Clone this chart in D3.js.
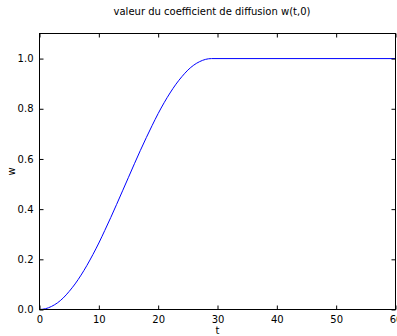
<!DOCTYPE html>
<html>
<head>
<meta charset="utf-8">
<script src="https://cdn.jsdelivr.net/npm/d3@7"></script>
<style>
  html, body { margin: 0; padding: 0; background: #fff; }
  svg { display: block; }
  text { font-family: "DejaVu Sans", sans-serif; fill: #000; }
</style>
</head>
<body>
<svg id="chart" width="397" height="336"></svg>
<script>
const titleText = "valeur du coefficient de diffusion w(t,0)";
const xLabel = "t";
const yLabel = "w";
const tValues = [0, 1, 2, 3, 4, 5, 6, 7, 8, 9, 10, 11, 12, 13, 14, 15, 16, 17, 18, 19, 20, 21, 22, 23, 24, 25, 26, 27, 28, 29, 60];
const wValues = [0, 0.003, 0.012, 0.026, 0.046, 0.072, 0.102, 0.137, 0.176, 0.219, 0.265, 0.315, 0.366, 0.419, 0.473, 0.527, 0.581, 0.634, 0.685, 0.734, 0.781, 0.824, 0.863, 0.898, 0.928, 0.954, 0.974, 0.988, 0.997, 1.0, 1.0];
const xTicks = [0, 10, 20, 30, 40, 50, 60];
const yTicks = [0.0, 0.2, 0.4, 0.6, 0.8, 1.0];

(function () {
const svg = d3.select("#chart");
const mLeft = 39.5, mRight = 395.5, mTop = 33.5, mBottom = 309.5;

const x = d3.scaleLinear().domain([0, 60]).range([mLeft, mRight]);
const y = d3.scaleLinear().domain([0, 1.1]).range([mBottom, mTop]);

const data = tValues.map((t, i) => ({ t, w: wValues[i] }));

svg.append("path")
  .datum(data)
  .attr("fill", "none")
  .attr("stroke", "#0000ff")
  .attr("stroke-width", 1)
  .attr("d", d3.line().x(d => x(d.t)).y(d => y(d.w)).curve(d3.curveMonotoneX));

const tickLen = 4;
const bAxis = d3.axisBottom(x).tickValues(xTicks).tickFormat(d3.format("d")).tickSizeInner(-tickLen).tickSizeOuter(0).tickPadding(6);
const tAxis = d3.axisTop(x).tickValues(xTicks).tickFormat("").tickSizeInner(-tickLen).tickSizeOuter(0);
const lAxis = d3.axisLeft(y).tickValues(yTicks).tickFormat(d3.format(".1f")).tickSizeInner(-tickLen).tickSizeOuter(0).tickPadding(6);
const rAxis = d3.axisRight(y).tickValues(yTicks).tickFormat("").tickSizeInner(-tickLen).tickSizeOuter(0);

function style(g) {
  g.select(".domain").remove();
  g.selectAll(".tick line").attr("stroke", "#000").attr("stroke-width", 1);
  g.selectAll(".tick text").attr("font-family", "DejaVu Sans").attr("font-size", 10).attr("fill", "#000");
}

svg.append("g").attr("transform", `translate(0,${mBottom})`).call(bAxis).call(style);
svg.append("g").attr("transform", `translate(0,${mTop})`).call(tAxis).call(style);
svg.append("g").attr("transform", `translate(${mLeft},0)`).call(lAxis).call(style);
svg.append("g").attr("transform", `translate(${mRight},0)`).call(rAxis).call(style);

svg.append("rect")
  .attr("x", mLeft).attr("y", mTop)
  .attr("width", mRight - mLeft).attr("height", mBottom - mTop)
  .attr("fill", "none").attr("stroke", "#000").attr("stroke-width", 1);

svg.append("text")
  .attr("x", (mLeft + mRight) / 2).attr("y", 334)
  .attr("text-anchor", "middle").attr("font-size", 10)
  .text(xLabel);

svg.append("text")
  .attr("transform", `translate(15,${(mTop + mBottom) / 2}) rotate(-90)`)
  .attr("text-anchor", "middle").attr("font-size", 10)
  .text(yLabel);

svg.append("text")
  .attr("x", 212).attr("y", 15)
  .attr("text-anchor", "middle").attr("font-size", 10)
  .text(titleText);
})();
</script>
</body>
</html>
